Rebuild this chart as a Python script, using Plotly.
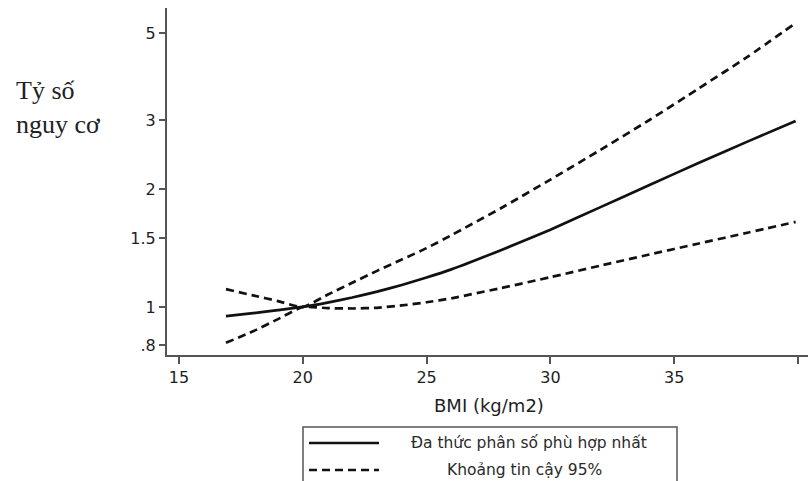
import plotly.graph_objects as go

# Fractional-polynomial fit of risk ratio against BMI, reference BMI = 20
bmi = [16.9, 18, 19, 20, 21, 22, 23, 24, 25, 26, 28, 30, 32, 34, 36, 38, 39.9]
fit = [0.948, 0.964, 0.982, 1.00, 1.026, 1.057, 1.094, 1.138, 1.189, 1.247,
       1.396, 1.574, 1.795, 2.046, 2.333, 2.649, 2.980]
ci_upper = [1.11, 1.07, 1.035, 1.00, 1.074, 1.153, 1.236, 1.321, 1.413, 1.524,
            1.786, 2.113, 2.512, 2.999, 3.614, 4.365, 5.300]
ci_lower = [0.81, 0.867, 0.931, 1.00, 0.993, 0.991, 0.995, 1.009, 1.028, 1.052,
            1.117, 1.191, 1.274, 1.361, 1.452, 1.549, 1.648]

x_ticks = [15, 20, 25, 30, 35, 40]
y_ticks = [0.8, 1, 1.5, 2, 3, 5]
y_tick_text = [".8", "1", "1.5", "2", "3", "5"]

legend_labels = ["Đa thức phân số phù hợp nhất", "Khoảng tin cậy 95%"]

W, H = 808, 481
L, R, T, B = 167, 0, 8, 126
PW, PH = W - L - R, H - T - B


def px(xp):
    return (xp - L) / PW


def py(yp):
    return (H - B - yp) / PH


INK = "#111111"
AX = "#555555"
TXT = "#1e1e1e"
DASH = "8px,5px"
LW = 2.7

fig = go.Figure()
fig.add_trace(go.Scatter(x=bmi, y=ci_upper, mode="lines",
                         line=dict(color=INK, width=LW, dash=DASH, shape="spline", smoothing=0.5),
                         name=legend_labels[1], showlegend=False))
fig.add_trace(go.Scatter(x=bmi, y=ci_lower, mode="lines",
                         line=dict(color=INK, width=LW, dash=DASH, shape="spline", smoothing=0.5),
                         name=legend_labels[1], showlegend=False))
fig.add_trace(go.Scatter(x=bmi, y=fit, mode="lines",
                         line=dict(color=INK, width=LW, shape="spline", smoothing=0.5),
                         name=legend_labels[0], showlegend=False))

axis_font = dict(family="DejaVu Sans", size=16, color=TXT)

fig.update_xaxes(range=[14.52, 40.4], tickvals=x_ticks, ticks="outside", ticklen=7,
                 tickwidth=1.5, tickcolor=AX, showline=True, linecolor=AX, linewidth=2,
                 showgrid=False, zeroline=False, tickfont=axis_font)
fig.update_yaxes(type="log", range=[-0.1226, 0.7627], tickvals=y_ticks, ticktext=y_tick_text,
                 ticks="outside", ticklen=6, tickwidth=1.5, tickcolor=AX, showline=True,
                 linecolor=AX, linewidth=2, showgrid=False, zeroline=False, tickfont=axis_font)

shapes = [
    # legend frame
    dict(type="rect", xref="paper", yref="paper", x0=px(303), x1=px(677), y0=py(495), y1=py(427),
         line=dict(color="#555555", width=1.5), fillcolor="white", layer="above"),
    # legend samples
    dict(type="line", xref="paper", yref="paper", x0=px(309), x1=px(379), y0=py(443), y1=py(443),
         line=dict(color=INK, width=LW)),
    dict(type="line", xref="paper", yref="paper", x0=px(309), x1=px(379), y0=py(470), y1=py(470),
         line=dict(color=INK, width=LW, dash=DASH)),
]

annotations = [
    dict(text="Tỷ số<br>nguy cơ", xref="paper", yref="paper", x=px(14), y=py(108),
         xanchor="left", yanchor="middle", align="left", showarrow=False,
         font=dict(family="Liberation Serif", size=26, color="#222222")),
    dict(text="BMI (kg/m2)", xref="paper", yref="paper", x=px(489), y=py(405),
         xanchor="center", yanchor="middle", showarrow=False,
         font=dict(family="DejaVu Sans", size=18, color=TXT)),
    dict(text=legend_labels[0], xref="paper", yref="paper", x=px(529), y=py(443),
         xanchor="center", yanchor="middle", showarrow=False,
         font=dict(family="DejaVu Sans", size=15.5, color="#2a2a2a")),
    dict(text=legend_labels[1], xref="paper", yref="paper", x=px(524), y=py(470),
         xanchor="center", yanchor="middle", showarrow=False,
         font=dict(family="DejaVu Sans", size=15.5, color="#2a2a2a")),
]

fig.update_layout(width=W, height=H, margin=dict(l=L, r=R, t=T, b=B),
                  paper_bgcolor="white", plot_bgcolor="white", showlegend=False,
                  shapes=shapes, annotations=annotations)

fig.write_html("out.html")
